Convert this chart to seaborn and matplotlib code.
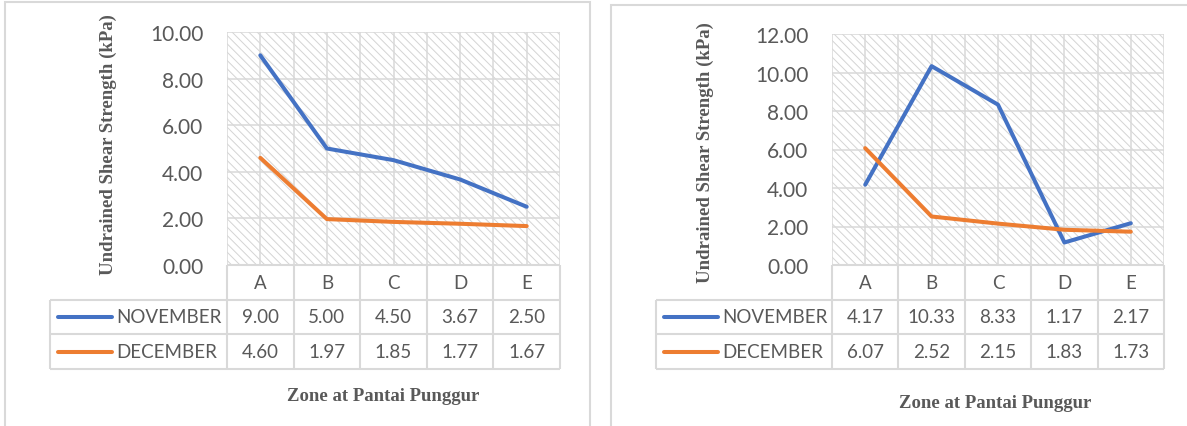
import numpy as np
import pandas as pd
import seaborn as sns
import matplotlib.pyplot as plt
from matplotlib.patches import Rectangle

# data
zones = ["A", "B", "C", "D", "E"]
months = ["NOVEMBER", "DECEMBER"]
left_nov = [9.00, 5.00, 4.50, 3.67, 2.50]
left_dec = [4.60, 1.97, 1.85, 1.77, 1.67]
right_nov = [4.17, 10.33, 8.33, 1.17, 2.17]
right_dec = [6.07, 2.52, 2.15, 1.83, 1.73]

W, H = 1187, 427
colors = {"NOVEMBER": "#4472C4", "DECEMBER": "#ED7D31"}
grey_txt = "#595959"
grid_col = "#d9d9d9"

sns.set_theme(style="white")
plt.rcParams['font.family'] = ['Lato', 'DejaVu Sans']
plt.rcParams['hatch.linewidth'] = 0.7


def frac(x0, y0, x1, y1):
    # pixel box (top-left origin) -> figure fraction rect
    return [x0 / W, 1 - y1 / H, (x1 - x0) / W, (y1 - y0) / H]


def draw_panel(fig, nov, dec, ymax, plot_box, table_left, ylab_xy, xlab_xy):
    x0, y0, x1, y1 = plot_box
    ax = fig.add_axes(frac(x0, y0, x1, y1))
    ax.set_facecolor("white")
    ax.add_patch(Rectangle((0, 0), 1, 1, transform=ax.transAxes, facecolor="white",
                           edgecolor="#d4d4d4", hatch="\\\\\\\\", lw=0, zorder=0))

    df = pd.DataFrame({
        "zone": np.tile(np.arange(len(zones)), 2),
        "value": nov + dec,
        "month": np.repeat(months, len(zones)),
    })
    sns.lineplot(data=df, x="zone", y="value", hue="month", palette=colors,
                 lw=2.9, legend=False, ax=ax, solid_capstyle="round", zorder=3)

    ax.set_xlim(-0.5, len(zones) - 0.5)
    ax.set_ylim(0, ymax)
    ax.set_xticks(np.arange(-0.5, len(zones), 0.5))
    ax.set_xticklabels([])
    yt = np.arange(0, ymax + 0.1, 2)
    ax.set_yticks(yt)
    ax.set_yticklabels([f"{v:.2f}" for v in yt], fontsize=15, color=grey_txt)
    ax.tick_params(length=0, pad=17)
    ax.grid(True, color=grid_col, lw=1.1)
    ax.set_axisbelow(True)
    ax.set_xlabel("")
    ax.set_ylabel("")
    for s in ax.spines.values():
        s.set_visible(False)

    # data table under the plot
    tab = fig.add_axes(frac(table_left, y1, x1, y1 + 104))
    colw = (x1 - x0) / len(zones)
    L = -0.5 - (x0 - table_left) / colw
    tab.set_xlim(L, len(zones) - 0.5)
    tab.set_ylim(3, 0)
    tab.axis("off")
    kw = dict(color=grid_col, lw=1.5, clip_on=False)
    tab.hlines(0, -0.5, len(zones) - 0.5, **kw)
    tab.hlines([1, 2, 3], L, len(zones) - 0.5, **kw)
    tab.vlines(np.arange(-0.5, len(zones), 1), 0, 3, **kw)
    tab.vlines(L, 1, 3, **kw)
    for i, z in enumerate(zones):
        tab.text(i, 0.5, z, ha="center", va="center", fontsize=13.5, color=grey_txt)
    for r, (m, vals) in enumerate(zip(months, [nov, dec]), start=1):
        tab.plot([L + 8 / colw, L + 62 / colw], [r + 0.5] * 2, color=colors[m],
                 lw=2.9, solid_capstyle="round", clip_on=False)
        tab.text(L + 66 / colw, r + 0.5, m, ha="left", va="center",
                 fontsize=13.5, color=grey_txt)
        for i, v in enumerate(vals):
            tab.text(i, r + 0.5, f"{v:.2f}", ha="center", va="center",
                     fontsize=13.5, color=grey_txt)

    fig.text(ylab_xy[0] / W, 1 - ylab_xy[1] / H, "Undrained Shear Strength (kPa)",
             rotation=90, ha="center", va="center", family="Liberation Serif",
             weight="bold", size=13.5, color=grey_txt)
    fig.text(xlab_xy[0] / W, 1 - xlab_xy[1] / H, "Zone at Pantai Punggur",
             ha="center", va="center", family="Liberation Serif",
             weight="bold", size=13.5, color=grey_txt)
    return ax


fig = plt.figure(figsize=(W / 100, H / 100), dpi=100)
fig.patch.set_facecolor("white")

# chart frames
fig.add_artist(Rectangle((5 / W, -0.1), 585 / W, 1.1 - 3 / H, transform=fig.transFigure,
                         facecolor="none", edgecolor=grid_col, lw=1.5))
fig.add_artist(Rectangle((611 / W, -0.1), 600 / W, 1.1 - 6 / H, transform=fig.transFigure,
                         facecolor="none", edgecolor=grid_col, lw=1.5))

draw_panel(fig, left_nov, left_dec, 10, (227, 33, 560, 266), 50, (108, 145), (383, 397))
draw_panel(fig, right_nov, right_dec, 12, (832, 35, 1164, 266), 656, (705, 153), (995, 404))

fig.savefig("out.png", dpi=100)
